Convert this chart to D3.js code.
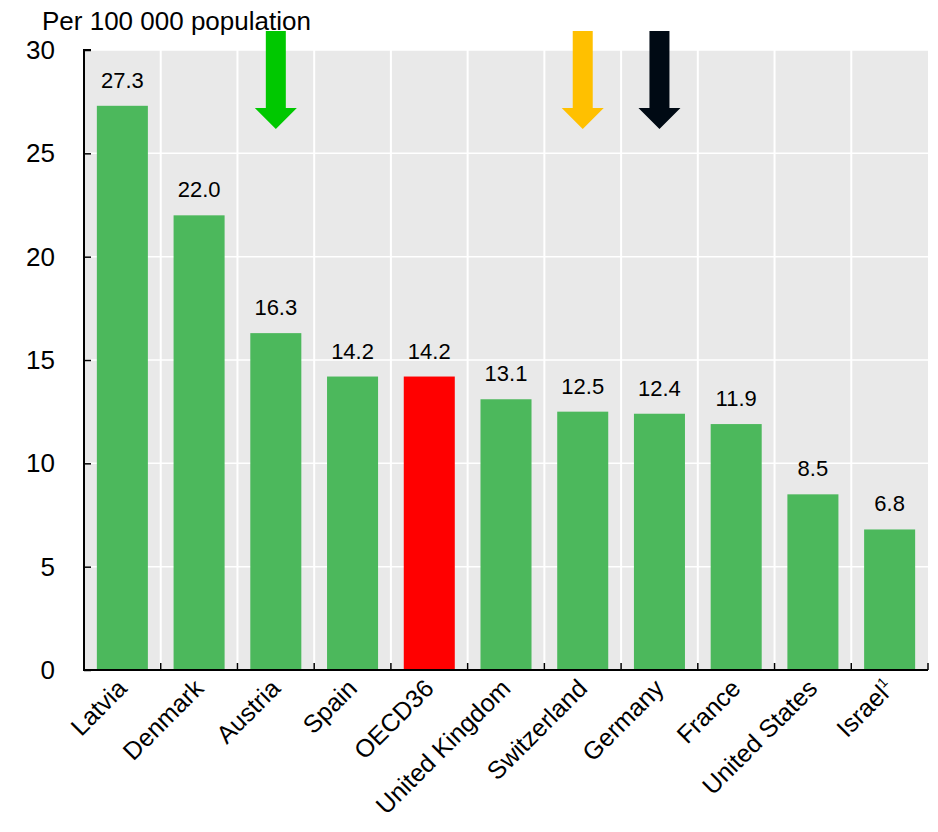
<!DOCTYPE html>
<html><head><meta charset="utf-8">
<script src="https://cdn.jsdelivr.net/npm/d3@7"></script>
<style>body{margin:0;background:#fff}svg{display:block}text{font-family:"Liberation Sans",Arial,sans-serif;fill:#000}</style>
</head><body>
<script>
const categories = ["Latvia","Denmark","Austria","Spain","OECD36","United Kingdom","Switzerland","Germany","France","United States","Israel"];
const footnotes = ["","","","","","","","","","","1"];
const values = [27.3,22.0,16.3,14.2,14.2,13.1,12.5,12.4,11.9,8.5,6.8];
const highlight = ["OECD36"];
const yTicks = [0,5,10,15,20,25,30];
const arrows = [{cat:"Austria",color:"#00c800"},{cat:"Switzerland",color:"#ffc000"},{cat:"Germany",color:"#000a14"}];
const yTitle = "Per 100 000 population";

const W=938,H=832;
const m={l:84,r:10,t:50,b:162};
const svg=d3.select("body").append("svg").attr("width",W).attr("height",H);
const x=d3.scaleBand().domain(categories).range([m.l,W-m.r]).paddingInner(0.335).paddingOuter(0.1675);
const y=d3.scaleLinear().domain([0,30]).range([H-m.b,m.t]);

svg.append("rect").attr("x",m.l).attr("y",m.t).attr("width",W-m.r-m.l).attr("height",H-m.b-m.t).attr("fill","#e9e9e9");
const step=x.step();
svg.append("g").selectAll("line").data(categories.slice(1)).join("line")
  .attr("x1",d=>x(d)-x.paddingInner()*step/2).attr("x2",d=>x(d)-x.paddingInner()*step/2)
  .attr("y1",m.t).attr("y2",H-m.b).attr("stroke","#fff").attr("stroke-width",2);
svg.append("g").selectAll("line").data(yTicks.slice(1)).join("line")
  .attr("x1",m.l).attr("x2",W-m.r).attr("y1",d=>y(d)).attr("y2",d=>y(d)).attr("stroke","#fff").attr("stroke-width",1.5);

svg.append("g").selectAll("rect").data(values).join("rect")
  .attr("x",(d,i)=>x(categories[i])).attr("width",x.bandwidth())
  .attr("y",d=>y(d)).attr("height",d=>y(0)-y(d))
  .attr("fill",(d,i)=>highlight.includes(categories[i])?"#ff0000":"#4cb85c");
svg.append("g").selectAll("text").data(values).join("text")
  .attr("x",(d,i)=>x(categories[i])+x.bandwidth()/2).attr("y",d=>y(d)-18)
  .attr("text-anchor","middle").attr("font-size",22).text(d=>d.toFixed(1));

const ya=svg.append("g").attr("transform",`translate(${m.l},0)`)
  .call(d3.axisRight(y).tickValues(yTicks).tickSize(7).tickFormat(""));
ya.select(".domain").attr("stroke","#000").attr("stroke-width",2).attr("d",`M7,${m.t}H0V${H-m.b}`);
ya.selectAll(".tick line").attr("stroke","#000").attr("stroke-width",1.5);
svg.append("g").selectAll("text").data(yTicks).join("text")
  .attr("x",55).attr("y",d=>y(d)).attr("dy","0.35em").attr("text-anchor","end")
  .attr("font-size",26).text(d=>d);

const xb=[...categories.map(c=>x(c)-x.paddingInner()*step/2), W-m.r];
svg.append("g").selectAll("line").data(xb).join("line")
  .attr("x1",d=>d).attr("x2",d=>d).attr("y1",H-m.b).attr("y2",H-m.b-7).attr("stroke","#000").attr("stroke-width",1.5);
svg.append("line").attr("x1",m.l-1).attr("x2",W-m.r).attr("y1",H-m.b).attr("y2",H-m.b).attr("stroke","#000").attr("stroke-width",2);
const xl=svg.append("g").selectAll("text").data(categories).join("text")
  .attr("transform",d=>`translate(${x(d)+x.bandwidth()/2+6},${H-m.b+20}) rotate(-45)`)
  .attr("text-anchor","end").attr("font-size",25);
xl.append("tspan").text(d=>d);
xl.append("tspan").attr("font-size",14).attr("dy",-10).text((d,i)=>footnotes[i]);

svg.append("text").attr("x",42).attr("y",30).attr("font-size",26).text(yTitle);

const ag=svg.append("g");
arrows.forEach(a=>{
  const cx=x(a.cat)+x.bandwidth()/2;
  const top=31, headY=108, tip=129, sw=10, hw=21;
  ag.append("path").attr("fill",a.color)
    .attr("d",`M${cx-sw},${top}H${cx+sw}V${headY}H${cx+hw}L${cx},${tip}L${cx-hw},${headY}H${cx-sw}Z`);
});
</script>
</body></html>
